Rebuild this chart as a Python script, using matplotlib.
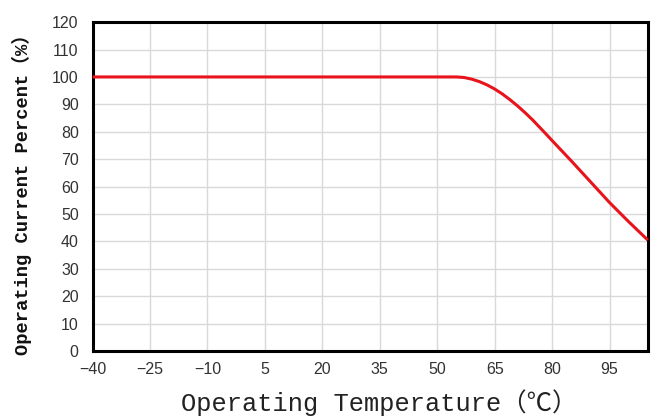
import matplotlib
matplotlib.use("Agg")
import matplotlib.pyplot as plt

temps = [-40, 55, 57, 59, 61, 63, 65, 67, 69, 71, 73, 75, 78, 80, 85, 90, 95, 100, 105]
percent = [100, 100, 99.8, 99.2, 98.3, 97.1, 95.6, 93.8, 91.7, 89.4, 86.9, 84.2, 79.8, 76.8, 69.4, 61.8, 54.2, 47.2, 40.5]
x_ticks = [-40, -25, -10, 5, 20, 35, 50, 65, 80, 95]
y_ticks = list(range(0, 121, 10))

fig = plt.figure(figsize=(6.57, 4.17), dpi=100)
ax = fig.add_axes([0.141, 0.158, 0.845, 0.789])

ax.plot(temps, percent, color="#e8141c", lw=2.2, solid_capstyle="butt",
        solid_joinstyle="round", zorder=3, clip_on=False)

ax.set_xlim(-40, 105)
ax.set_ylim(0, 120)
ax.set_xticks(x_ticks)
ax.set_yticks(y_ticks)
ax.set_xticklabels([str(t).replace("-", "\u2212") for t in x_ticks], fontsize=11.5,
                   family="Liberation Sans", color="#333333")
ax.set_yticklabels([str(t) for t in y_ticks], fontsize=11.5, family="Liberation Sans", color="#333333")
ax.tick_params(axis="y", length=0, pad=10)
ax.tick_params(axis="x", length=0, pad=8)
ax.grid(True, color="#d9d9d9", lw=1)
ax.set_axisbelow(True)
for s in ax.spines.values():
    s.set_linewidth(2.2)
    s.set_color("black")

ax.set_ylabel("Operating Current Percent\uff08%\uff09", family=["Liberation Mono", "Noto Sans CJK SC"],
              fontweight="bold", fontsize=13.5, color="#111111")
ax.yaxis.set_label_coords(-0.11, 0.49)

fig.text(0.577, 0.014, "Operating Temperature\uff08\u2103\uff09", family=["Liberation Mono", "Noto Sans CJK SC"],
         fontsize=18.3, color="#222222", ha="center", va="baseline")

fig.savefig("out.png", dpi=100)
